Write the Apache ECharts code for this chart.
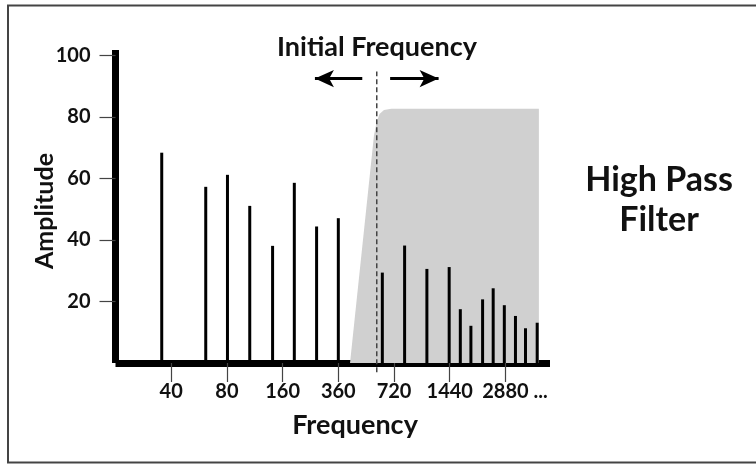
<!DOCTYPE html>
<html>
<head>
<meta charset="utf-8">
<script src="https://cdn.jsdelivr.net/npm/echarts@6/dist/echarts.min.js"></script>
<style>
html,body{margin:0;padding:0;background:#fff;}
#chart{width:756px;height:465px;}
</style>
</head>
<body>
<div id="chart"></div>
<script>
// Harmonic positions (x in tick units: 1 = "40", 2 = "80", ...) and amplitudes
var harmonicPos = [0.83, 1.62, 2.01, 2.41, 2.82, 3.21, 3.61, 4.00, 4.79, 5.19, 5.59, 5.99, 6.19, 6.38, 6.59, 6.78, 6.98, 7.18, 7.36, 7.57];
var harmonicAmp = [68.4, 57.3, 61.2, 51.1, 38.1, 58.6, 44.4, 47.1, 29.4, 38.2, 30.6, 31.2, 17.5, 12.1, 20.7, 24.3, 18.8, 15.3, 11.3, 13.1];
// Tick labels
var freqTickPos = [1, 2, 3, 4, 5, 6, 7];
var freqTickLabels = ['40', '80', '160', '360', '720', '1440', '2880'];
var ellipsisPos = 7.63;
var ampTicks = [20, 40, 60, 80, 100];
// Filter output curve
var filterX = [4.21, 4.64, 4.69, 4.74, 4.82, 4.95, 7.60, 7.60];
var filterY = [0, 74, 78.5, 81, 82.3, 82.7, 82.7, 0];
// Initial frequency (cutoff) marker
var cutoffX = 4.69;
var cutoffRange = [-3, 94.8];
var arrowY = 92.5;
var arrowLeft = [4.43, 3.58];
var arrowRight = [4.93, 5.80];

var FONT = 'Lato';
var chart = echarts.init(document.getElementById('chart'));

var barData = harmonicPos.map(function (x, i) { return [x, harmonicAmp[i]]; });
var filterData = filterX.map(function (x, i) { return [x, filterY[i]]; });
var labelVals = freqTickPos.concat([ellipsisPos]);
var labelMap = {};
freqTickPos.forEach(function (p, i) { labelMap[p] = freqTickLabels[i]; });
labelMap[ellipsisPos] = '...';

chart.setOption({
  animation: false,
  backgroundColor: '#fff',
  grid: { left: 115.5, right: 206, top: 50, bottom: 102, containLabel: false },
  xAxis: {
    type: 'value', min: 0, max: 7.8,
    splitLine: { show: false },
    axisLine: { show: true, onZero: false, lineStyle: { color: '#000', width: 7, cap: 'butt' } },
    axisTick: { show: true, length: 19, customValues: freqTickPos, lineStyle: { color: '#444', width: 1.2 } },
    axisLabel: {
      show: true, customValues: labelVals, margin: 19,
      fontFamily: FONT, fontWeight: 'bold', fontSize: 20, color: '#111',
      formatter: function (v) { return labelMap[v] !== undefined ? labelMap[v] : ''; }
    }
  },
  yAxis: {
    type: 'value', min: 0, max: 101.8,
    splitLine: { show: false },
    axisLine: { show: true, lineStyle: { color: '#000', width: 7, cap: 'butt' } },
    axisTick: { show: true, length: 16, customValues: ampTicks, lineStyle: { color: '#444', width: 1.2 } },
    axisLabel: {
      show: true, customValues: ampTicks, margin: 25,
      fontFamily: FONT, fontWeight: 'bold', fontSize: 20, color: '#111'
    }
  },
  series: [
    {
      type: 'line', data: filterData, symbol: 'none', z: 1,
      lineStyle: { width: 0, color: '#d0d0d0' },
      areaStyle: { color: '#d0d0d0', opacity: 1 }
    },
    {
      type: 'bar', data: barData, barWidth: 3, z: 3,
      itemStyle: { color: '#000' }
    },
    {
      type: 'line', data: [[cutoffX, cutoffRange[0]], [cutoffX, cutoffRange[1]]],
      symbol: 'none', clip: false, z: 4,
      lineStyle: { color: '#444', width: 1.5, type: [5, 3] }
    },
    {
      type: 'line', data: [], z: 5,
      markLine: {
        silent: true, symbol: ['none', 'arrow'], symbolSize: [13, 19],
        label: { show: false },
        lineStyle: { color: '#000', width: 3, type: 'solid' },
        data: [
          [{ coord: [arrowLeft[0], arrowY] }, { coord: [arrowLeft[1], arrowY] }],
          [{ coord: [arrowRight[0], arrowY] }, { coord: [arrowRight[1], arrowY] }]
        ]
      }
    }
  ],
  graphic: [
    { type: 'rect', shape: { x: 8, y: 5.5, width: 760, height: 457 }, style: { fill: 'none', stroke: '#444', lineWidth: 2 }, z: 0 },
    { type: 'text', x: 377, y: 47, style: { text: 'Initial Frequency', font: 'bold 27px ' + FONT, fill: '#111', textAlign: 'center', textVerticalAlign: 'middle' } },
    { type: 'text', x: 460, y: 147, style: { text: 'Filter Output', font: 'bold 20px ' + FONT, fill: '#111', textAlign: 'center', textVerticalAlign: 'middle' } },
    { type: 'text', x: 659, y: 200, style: { text: 'High Pass\nFilter', font: 'bold 34px ' + FONT, lineHeight: 40, fill: '#111', textAlign: 'center', textVerticalAlign: 'middle' } },
    { type: 'text', x: 355, y: 425, style: { text: 'Frequency', font: 'bold 27px ' + FONT, fill: '#111', textAlign: 'center', textVerticalAlign: 'middle' } },
    { type: 'text', x: 45, y: 211, rotation: Math.PI / 2, style: { text: 'Amplitude', font: 'bold 25px ' + FONT, fill: '#111', textAlign: 'center', textVerticalAlign: 'middle' } }
  ]
});
</script>
</body>
</html>
